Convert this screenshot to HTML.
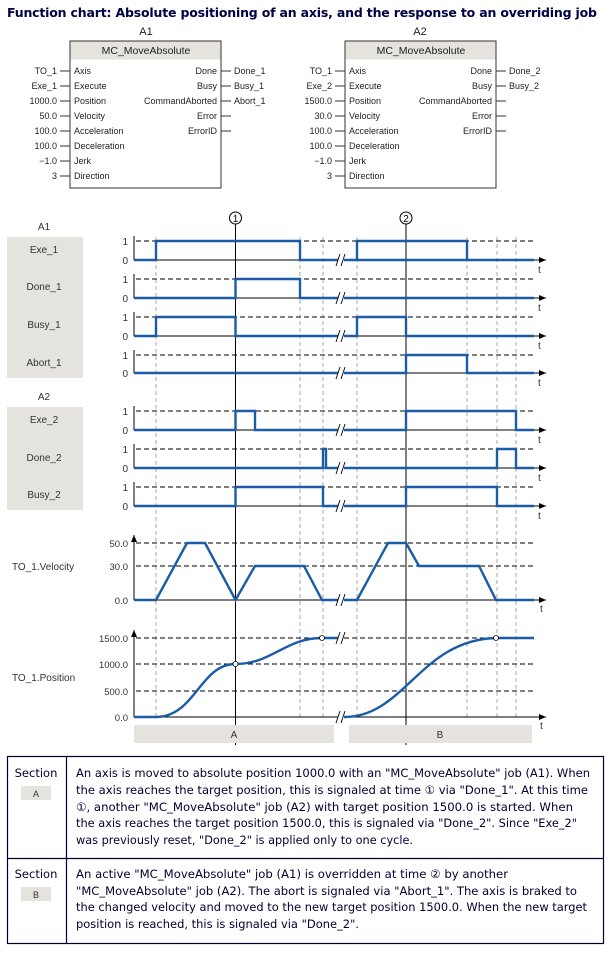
<!DOCTYPE html>
<html><head><meta charset="utf-8"><style>
html,body{margin:0;padding:0;background:#fff}
svg{display:block}
.d{font-family:"Liberation Sans",sans-serif;font-size:9px;fill:#222}
.l{font-family:"Liberation Sans",sans-serif;font-size:10px;fill:#333}
.tx{font-family:"DejaVu Sans","Liberation Sans",sans-serif;font-size:11.5px;fill:#000033}
.s{fill:none;stroke:#1a5ca8;stroke-width:2.4;stroke-linejoin:miter}
.g{stroke:#aaa;stroke-width:1;stroke-dasharray:4,3}
.h{stroke:#000;stroke-width:1;stroke-dasharray:5,3}
</style></head><body>
<svg width="612" height="953" viewBox="0 0 612 953" xmlns="http://www.w3.org/2000/svg">
<defs><marker id="ar" markerWidth="8" markerHeight="8" refX="7" refY="3" orient="auto"><path d="M0,0 L7,3 L0,6 z" fill="#000"/></marker></defs>
<text x="7" y="17" style="font-family:'DejaVu Sans','Liberation Sans',sans-serif;font-size:12.5px;font-weight:bold;fill:#000044" textLength="590">Function chart: Absolute positioning of an axis, and the response to an overriding job</text>

<!-- Block A1 -->
<text class="d" x="146" y="35" text-anchor="middle" style="font-size:11px">A1</text>
<rect x="70" y="41" width="151" height="147" fill="#fff" stroke="#333"/>
<rect x="70.5" y="41.5" width="150" height="18" fill="#e4e3dd"/>
<text class="d" x="146" y="54" text-anchor="middle" style="font-size:10.5px">MC_MoveAbsolute</text>
<g class="d">
<text x="74" y="74">Axis</text><text x="74" y="89">Execute</text><text x="74" y="104">Position</text><text x="74" y="119">Velocity</text><text x="74" y="134">Acceleration</text><text x="74" y="149">Deceleration</text><text x="74" y="164">Jerk</text><text x="74" y="179">Direction</text>
<g text-anchor="end"><text x="57" y="74">TO_1</text><text x="57" y="89">Exe_1</text><text x="57" y="104">1000.0</text><text x="57" y="119">50.0</text><text x="57" y="134">100.0</text><text x="57" y="149">100.0</text><text x="57" y="164">−1.0</text><text x="57" y="179">3</text>
<text x="217" y="74">Done</text><text x="217" y="89">Busy</text><text x="217" y="104">CommandAborted</text><text x="217" y="119">Error</text><text x="217" y="134">ErrorID</text></g>
<text x="234" y="74">Done_1</text><text x="234" y="89">Busy_1</text><text x="234" y="104">Abort_1</text>
</g>
<g stroke="#333"><path d="M60,71H70M60,86H70M60,101H70M60,116H70M60,131H70M60,146H70M60,161H70M60,176H70M221,71H231M221,86H231M221,101H231M221,116H231M221,131H231"/></g>

<!-- Block A2 -->
<text class="d" x="420" y="35" text-anchor="middle" style="font-size:11px">A2</text>
<rect x="345" y="41" width="151" height="147" fill="#fff" stroke="#333"/>
<rect x="345.5" y="41.5" width="150" height="18" fill="#e4e3dd"/>
<text class="d" x="421" y="54" text-anchor="middle" style="font-size:10.5px">MC_MoveAbsolute</text>
<g class="d">
<text x="349" y="74">Axis</text><text x="349" y="89">Execute</text><text x="349" y="104">Position</text><text x="349" y="119">Velocity</text><text x="349" y="134">Acceleration</text><text x="349" y="149">Deceleration</text><text x="349" y="164">Jerk</text><text x="349" y="179">Direction</text>
<g text-anchor="end"><text x="332" y="74">TO_1</text><text x="332" y="89">Exe_2</text><text x="332" y="104">1500.0</text><text x="332" y="119">30.0</text><text x="332" y="134">100.0</text><text x="332" y="149">100.0</text><text x="332" y="164">−1.0</text><text x="332" y="179">3</text>
<text x="492" y="74">Done</text><text x="492" y="89">Busy</text><text x="492" y="104">CommandAborted</text><text x="492" y="119">Error</text><text x="492" y="134">ErrorID</text></g>
<text x="509" y="74">Done_2</text><text x="509" y="89">Busy_2</text>
</g>
<g stroke="#333"><path d="M335,71H345M335,86H345M335,101H345M335,116H345M335,131H345M335,146H345M335,161H345M335,176H345M496,71H506M496,86H506M496,101H506M496,116H506M496,131H506"/></g>

<!-- label boxes -->
<text class="l" x="44" y="230" text-anchor="middle">A1</text>
<rect x="7" y="237" width="76" height="141" fill="#e4e3dd"/>
<text class="l" x="44" y="253" text-anchor="middle">Exe_1</text>
<text class="l" x="44" y="290" text-anchor="middle">Done_1</text>
<text class="l" x="44" y="328" text-anchor="middle">Busy_1</text>
<text class="l" x="44" y="366" text-anchor="middle">Abort_1</text>
<text class="l" x="44" y="400" text-anchor="middle">A2</text>
<rect x="7" y="407" width="76" height="103" fill="#e4e3dd"/>
<text class="l" x="44" y="423" text-anchor="middle">Exe_2</text>
<text class="l" x="44" y="461" text-anchor="middle">Done_2</text>
<text class="l" x="44" y="498" text-anchor="middle">Busy_2</text>
<text class="l" x="12" y="570">TO_1.Velocity</text>
<text class="l" x="12" y="681">TO_1.Position</text>

<!-- gray verticals -->
<g class="g"><path d="M156,237V717M300,237V717M323,237V717M357,237V717M467,237V717M497,237V717M516,237V717"/></g>
<!-- solid verticals + markers -->
<path d="M235.5,224V745M406,224V745" stroke="#000" stroke-width="1"/>
<circle cx="235.5" cy="218" r="6" fill="#fff" stroke="#000"/><text x="235.5" y="222" font-family="Liberation Sans" font-size="10" text-anchor="middle">1</text>
<circle cx="406" cy="218" r="6" fill="#fff" stroke="#000"/><text x="406" y="222" font-family="Liberation Sans" font-size="10" text-anchor="middle">2</text>

<!-- signal axes -->
<g id="axes">
<g class="h"><path d="M136,241H534M136,279H534M136,317H534M136,355H534M136,411H534M136,449H534M136,487H534"/></g>
<g stroke="#000" stroke-width="1" marker-end="url(#ar)">
<path d="M134,260H546"/><path d="M134,298H546"/><path d="M134,336H546"/><path d="M134,373H546"/><path d="M134,430H546"/><path d="M134,468H546"/><path d="M134,506H546"/>
</g>
<path d="M134,236V260M134,274V298M134,312V336M134,350V373M134,406V430M134,444V468M134,482V506" stroke="#000"/>
<g class="l" text-anchor="end"><text x="128" y="245">1</text><text x="128" y="264">0</text><text x="128" y="283">1</text><text x="128" y="302">0</text><text x="128" y="321">1</text><text x="128" y="340">0</text><text x="128" y="359">1</text><text x="128" y="377">0</text><text x="128" y="415">1</text><text x="128" y="434">0</text><text x="128" y="453">1</text><text x="128" y="472">0</text><text x="128" y="491">1</text><text x="128" y="510">0</text></g>
<g class="l"><text x="538" y="273">t</text><text x="538" y="311">t</text><text x="538" y="349">t</text><text x="538" y="386">t</text><text x="538" y="443">t</text><text x="538" y="481">t</text><text x="538" y="519">t</text><text x="540" y="612">t</text><text x="540" y="729">t</text></g>
</g>

<!-- signals -->
<path class="s" d="M134,260H156V241H300V260H534M357,260V241H467V260"/>
<path class="s" d="M134,298H235.5V279H300V298H534"/>
<path class="s" d="M134,336H156V317H235.5V336H357V317H406V336H534"/>
<path class="s" d="M134,373H406V355H467V373H534"/>
<path class="s" d="M134,430H235.5V411H255V430H406V411H516V430H534"/>
<path class="s" d="M134,468H323V449H326V468H497V449H516V468H534"/>
<path class="s" d="M134,506H235.5V487H323V506H406V487H497V506H534"/>

<!-- velocity -->
<g class="h"><path d="M136,543H534M136,566H534"/></g>
<path d="M134,600H546" stroke="#000" marker-end="url(#ar)"/>
<path d="M134,600V535" stroke="#000" marker-end="url(#ar)"/>
<g class="l" text-anchor="end" style="font-size:9.5px"><text x="128" y="547">50.0</text><text x="128" y="570">30.0</text><text x="128" y="604">0.0</text></g>
<path class="s" d="M134,600H156L187,543H205L235.5,600L255,566H304L322,600H357L388,543H406L419,566H479L496,600H534"/>

<!-- position -->
<g class="h"><path d="M136,638H534M136,664H534M136,691H534"/></g>
<path d="M134,717H546" stroke="#000" marker-end="url(#ar)"/>
<path d="M134,717V630" stroke="#000" marker-end="url(#ar)"/>
<g class="l" text-anchor="end" style="font-size:9.5px"><text x="128" y="642">1500.0</text><text x="128" y="668">1000.0</text><text x="128" y="695">500.0</text><text x="128" y="721">0.0</text></g>
<path class="s" d="M134,717H156C195,717 200,664 235.5,664C272,664 285,638 322,638H340M344,717C405,717 420,640 496,638H534"/>
<circle cx="235.5" cy="664" r="2.5" fill="#fff" stroke="#000" stroke-width="0.8"/>
<circle cx="322" cy="638" r="2.5" fill="#fff" stroke="#000" stroke-width="0.8"/>
<circle cx="496" cy="638" r="2.5" fill="#fff" stroke="#000" stroke-width="0.8"/>

<!-- break marks -->
<g>
<rect x="338" y="254" width="6" height="12" fill="#fff"/><rect x="338" y="292" width="6" height="12" fill="#fff"/><rect x="338" y="330" width="6" height="12" fill="#fff"/><rect x="338" y="367" width="6" height="12" fill="#fff"/><rect x="338" y="424" width="6" height="12" fill="#fff"/><rect x="338" y="462" width="6" height="12" fill="#fff"/><rect x="338" y="500" width="6" height="12" fill="#fff"/><rect x="338" y="594" width="6" height="12" fill="#fff"/><rect x="338" y="632" width="6" height="12" fill="#fff"/><rect x="338" y="711" width="6" height="12" fill="#fff"/>
<g stroke="#000" stroke-width="0.9"><path d="M336,266L340,254M341,266L345,254M336,304L340,292M341,304L345,292M336,342L340,330M341,342L345,330M336,379L340,367M341,379L345,367M336,436L340,424M341,436L345,424M336,474L340,462M341,474L345,462M336,512L340,500M341,512L345,500M336,606L340,594M341,606L345,594M336,644L340,632M341,644L345,632M336,723L340,711M341,723L345,711"/></g>
</g>

<!-- section bars -->
<rect x="134" y="725" width="200" height="18" fill="#e4e3dd"/>
<text class="l" x="234" y="738" text-anchor="middle">A</text>
<rect x="349" y="725" width="183" height="18" fill="#e4e3dd"/>
<text class="l" x="440" y="738" text-anchor="middle">B</text>

<!-- table -->
<rect x="7.5" y="756.5" width="596" height="187" fill="none" stroke="#000033" stroke-width="1.2"/>
<path d="M66.5,756V944M7,858.5H604" stroke="#000033" stroke-width="1.2"/>
<text class="tx" x="36" y="777" text-anchor="middle">Section</text>
<rect x="21" y="786" width="30" height="14" fill="#e4e3dd"/>
<text class="l" x="36" y="797" text-anchor="middle" style="font-size:9px">A</text>
<text class="tx" x="36" y="878" text-anchor="middle">Section</text>
<rect x="21" y="887" width="30" height="14" fill="#e4e3dd"/>
<text class="l" x="36" y="898" text-anchor="middle" style="font-size:9px">B</text>
<g class="tx">
<text x="76" y="777" textLength="514" lengthAdjust="spacingAndGlyphs">An axis is moved to absolute position 1000.0 with an "MC_MoveAbsolute" job (A1). When</text>
<text x="76" y="794" textLength="512" lengthAdjust="spacingAndGlyphs">the axis reaches the target position, this is signaled at time ① via "Done_1". At this time</text>
<text x="76" y="811" textLength="497" lengthAdjust="spacingAndGlyphs">①, another "MC_MoveAbsolute" job (A2) with target position 1500.0 is started. When</text>
<text x="76" y="827" textLength="501" lengthAdjust="spacingAndGlyphs">the axis reaches the target position 1500.0, this is signaled via "Done_2". Since "Exe_2"</text>
<text x="76" y="844" textLength="337" lengthAdjust="spacingAndGlyphs">was previously reset, "Done_2" is applied only to one cycle.</text>
<text x="76" y="878" textLength="432" lengthAdjust="spacingAndGlyphs">An active "MC_MoveAbsolute" job (A1) is overridden at time ② by another</text>
<text x="76" y="895" textLength="501" lengthAdjust="spacingAndGlyphs">"MC_MoveAbsolute" job (A2). The abort is signaled via "Abort_1". The axis is braked to</text>
<text x="76" y="911" textLength="511" lengthAdjust="spacingAndGlyphs">the changed velocity and moved to the new target position 1500.0. When the new target</text>
<text x="76" y="928" textLength="283" lengthAdjust="spacingAndGlyphs">position is reached, this is signaled via "Done_2".</text>
</g>
</svg>
</body></html>
